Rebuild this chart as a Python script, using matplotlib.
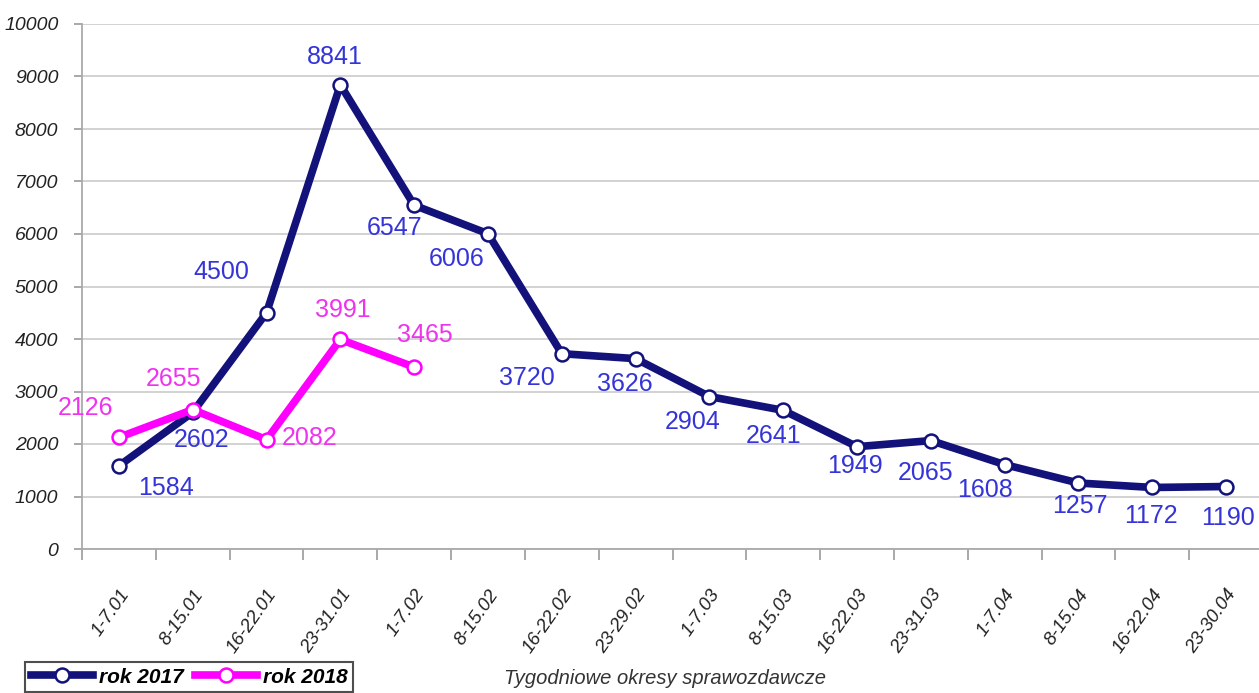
import matplotlib.pyplot as plt
import numpy as np

plt.rcParams['font.family'] = ['Liberation Sans', 'DejaVu Sans']

weeks = ['1-7.01', '8-15.01', '16-22.01', '23-31.01', '1-7.02', '8-15.02',
         '16-22.02', '23-29.02', '1-7.03', '8-15.03', '16-22.03', '23-31.03',
         '1-7.04', '8-15.04', '16-22.04', '23-30.04']
cases_2017 = [1584, 2602, 4500, 8841, 6547, 6006, 3720, 3626,
              2904, 2641, 1949, 2065, 1608, 1257, 1172, 1190]
cases_2018 = [2126, 2655, 2082, 3991, 3465]

# label offsets in pixels (dx, dy) relative to each point
off_2017 = [(47, -22), (9, -28), (-45, 41), (-6, 28), (-20, -23), (-31, -25),
            (-35, -24), (-11, -25), (-17, -25), (-10, -26), (-2, -19), (-5, -32),
            (-20, -25), (1, -23), (-1, -29), (2, -31)]
off_2018 = [(-33, 29), (-19, 31), (43, 2), (2, 29), (11, 32)]

navy = '#12127a'
navy_txt = '#3434d8'
magenta = '#ff00ff'
magenta_txt = '#ee33ee'

fig = plt.figure(figsize=(12.59, 6.93), dpi=100)
ax = fig.add_axes([82 / 1259, 144 / 693, 1181 / 1259, 525 / 693])

x17 = np.arange(len(cases_2017))
x18 = np.arange(len(cases_2018))

ax.plot(x17, cases_2017, color=navy, lw=5.5, marker='o', ms=10,
        mfc='white', mec=navy, mew=1.8, zorder=3, label='rok 2017')
ax.plot(x18, cases_2018, color=magenta, lw=5.5, marker='o', ms=10,
        mfc='white', mec=magenta, mew=1.8, zorder=4, label='rok 2018')

for xi, v, (dx, dy) in zip(x17, cases_2017, off_2017):
    ax.annotate(str(v), (xi, v), xytext=(dx, dy), textcoords='offset pixels',
                ha='center', va='center', fontsize=18, color=navy_txt, zorder=5)
for xi, v, (dx, dy) in zip(x18, cases_2018, off_2018):
    ax.annotate(str(v), (xi, v), xytext=(dx, dy), textcoords='offset pixels',
                ha='center', va='center', fontsize=18, color=magenta_txt, zorder=5)

ax.set_xlim(-0.5, 15.5)
ax.set_ylim(0, 10000)
ax.set_yticks(np.arange(0, 10001, 1000))
ax.set_yticklabels([str(v) for v in range(0, 10001, 1000)],
                   fontsize=14, style='italic', color='#222222')
ax.grid(axis='y', color='#cfcfcf', lw=1.3)
ax.set_axisbelow(True)

ax.set_xticks(x17)
ax.set_xticklabels(weeks, rotation=55, ha='right', rotation_mode='anchor',
                   fontsize=13.5, style='italic', color='#222222')
ax.set_xticks(np.arange(-0.5, 16, 1), minor=True)
ax.tick_params(axis='x', which='major', length=0, pad=27)
ax.tick_params(axis='x', which='minor', length=8, color='#999999', width=1.2)
ax.tick_params(axis='y', length=6, color='#999999', width=1.2, pad=11)

for s in ['top', 'right']:
    ax.spines[s].set_visible(False)
for s in ['left', 'bottom']:
    ax.spines[s].set_color('#aaaaaa')
    ax.spines[s].set_linewidth(1.3)

fig.text(665 / 1259, 1 - 678 / 693, 'Tygodniowe okresy sprawozdawcze',
         ha='center', va='center', fontsize=14.5, style='italic', color='#333333')

leg = fig.legend(loc='upper left', bbox_to_anchor=(15 / 1259, 1 - 652 / 693),
                 ncol=2, frameon=True, fancybox=False, handlelength=3.0,
                 handletextpad=0.3, columnspacing=0.5, borderpad=0.25,
                 prop={'size': 15, 'weight': 'bold', 'style': 'italic'})
leg.get_frame().set_edgecolor('#222222')
leg.get_frame().set_linewidth(1.5)

fig.savefig('out.png', dpi=100)
